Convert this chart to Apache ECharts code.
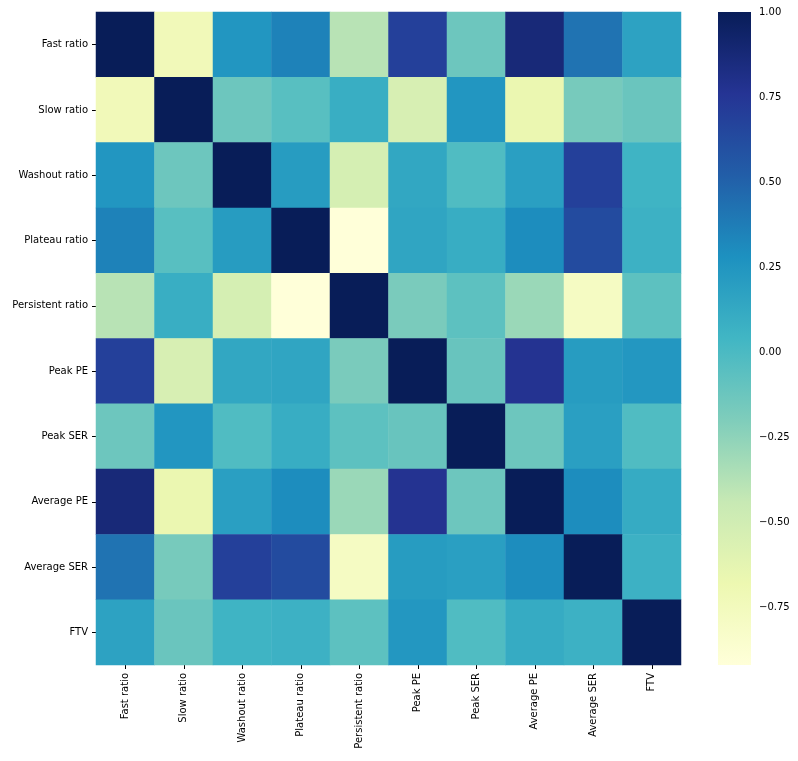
<!DOCTYPE html>
<html>
<head>
<meta charset="utf-8">
<script src="https://cdn.jsdelivr.net/npm/echarts@6/dist/echarts.min.js"></script>
<style>
html, body { margin: 0; padding: 0; background: #fff; }
#main { width: 798px; height: 761px; }
</style>
</head>
<body>
<div id="main"></div>
<script>
// feature names (rows top->bottom, columns left->right)
var names = ['Fast ratio', 'Slow ratio', 'Washout ratio', 'Plateau ratio', 'Persistent ratio',
	'Peak PE', 'Peak SER', 'Average PE', 'Average SER', 'FTV'];

// correlation rows
var rowFast       = [ 1.00, -0.73,  0.25,  0.35, -0.39,  0.69, -0.13,  0.87,  0.42,  0.17];
var rowSlow       = [-0.73,  1.00, -0.13, -0.05,  0.09, -0.54,  0.25, -0.67, -0.17, -0.12];
var rowWashout    = [ 0.25, -0.13,  1.00,  0.21, -0.53,  0.14, -0.02,  0.19,  0.69,  0.05];
var rowPlateau    = [ 0.35, -0.05,  0.21,  1.00, -0.92,  0.15,  0.10,  0.30,  0.63,  0.07];
var rowPersistent = [-0.39,  0.09, -0.53, -0.92,  1.00, -0.18, -0.07, -0.29, -0.79, -0.07];
var rowPeakPE     = [ 0.69, -0.54,  0.14,  0.15, -0.18,  1.00, -0.11,  0.77,  0.21,  0.24];
var rowPeakSER    = [-0.13,  0.25, -0.02,  0.10, -0.07, -0.11,  1.00, -0.13,  0.19, -0.02];
var rowAvgPE      = [ 0.87, -0.67,  0.19,  0.30, -0.29,  0.77, -0.13,  1.00,  0.30,  0.11];
var rowAvgSER     = [ 0.42, -0.17,  0.69,  0.63, -0.79,  0.21,  0.19,  0.30,  1.00,  0.07];
var rowFTV        = [ 0.17, -0.12,  0.05,  0.07, -0.07,  0.24, -0.02,  0.11,  0.07,  1.00];

// colour bar range and ticks
var cbMin = -0.92;
var cbMax = 1.00;
var cbTicks = [-0.75, -0.5, -0.25, 0, 0.25, 0.5, 0.75, 1.0];

// YlGnBu
var ylgnbu = ['#ffffd9', '#edf8b1', '#c7e9b4', '#7fcdbb', '#41b6c4', '#1d91c0', '#225ea8', '#253494', '#081d58'];

var rows = [rowFast, rowSlow, rowWashout, rowPlateau, rowPersistent,
	rowPeakPE, rowPeakSER, rowAvgPE, rowAvgSER, rowFTV];

var cells = [];
for (var i = 0; i < rows.length; i++) {
	for (var j = 0; j < rows[i].length; j++) {
		cells.push([j, i, rows[i][j]]);
	}
}

var font = 'DejaVu Sans';
var stops = [];
for (var k = 0; k < ylgnbu.length; k++) {
	// top of the bar is the max value
	stops.push({ offset: k / (ylgnbu.length - 1), color: ylgnbu[ylgnbu.length - 1 - k] });
}

var fmtTick = function(v) {
	var s = Math.abs(v).toFixed(2);
	return v < 0 ? '\u2212' + s : s;
};

var myChart = echarts.init(document.getElementById('main'));
var option = {
	animation: false,
	backgroundColor: '#fff',
	textStyle: { fontFamily: font },
	grid: [
		{ left: 96, top: 12, width: 585, height: 653 },
		{ left: 718, top: 12, width: 33, height: 653 }
	],
	xAxis: [{
		gridIndex: 0,
		type: 'category',
		data: names,
		position: 'bottom',
		axisLine: { show: false },
		axisTick: { show: true, alignWithLabel: true, length: 4, lineStyle: { color: '#000' } },
		axisLabel: { rotate: 90, fontSize: 10, color: '#000', fontFamily: font, margin: 8, interval: 0 },
		splitLine: { show: false }
	}, {
		gridIndex: 1,
		type: 'value',
		min: 0,
		max: 1,
		show: false
	}],
	yAxis: [{
		gridIndex: 0,
		type: 'category',
		data: names,
		inverse: true,
		axisLine: { show: false },
		axisTick: { show: true, alignWithLabel: true, length: 4, lineStyle: { color: '#000' } },
		axisLabel: { fontSize: 10, color: '#000', fontFamily: font, margin: 8, interval: 0 },
		splitLine: { show: false }
	}, {
		gridIndex: 1,
		type: 'value',
		position: 'right',
		min: cbMin,
		max: cbMax,
		axisLine: { show: false },
		axisTick: { show: true, length: 4, lineStyle: { color: '#000' }, customValues: cbTicks },
		axisLabel: { fontSize: 10, color: '#000', fontFamily: font, margin: 8,
			customValues: cbTicks, formatter: fmtTick },
		splitLine: { show: false }
	}],
	visualMap: {
		show: false,
		type: 'continuous',
		min: cbMin,
		max: cbMax,
		dimension: 2,
		seriesIndex: 0,
		inRange: { color: ylgnbu }
	},
	series: [{
		type: 'heatmap',
		xAxisIndex: 0,
		yAxisIndex: 0,
		data: cells,
		itemStyle: { borderWidth: 0 },
		emphasis: { disabled: true }
	}, {
		type: 'custom',
		xAxisIndex: 1,
		yAxisIndex: 1,
		data: [[0]],
		renderItem: function(params, api) {
			var p1 = api.coord([0, cbMax]);
			var p2 = api.coord([1, cbMin]);
			return {
				type: 'rect',
				shape: { x: p1[0], y: p1[1], width: p2[0] - p1[0], height: p2[1] - p1[1] },
				style: { fill: new echarts.graphic.LinearGradient(0, 0, 0, 1, stops) }
			};
		}
	}]
};
myChart.setOption(option);
</script>
</body>
</html>
